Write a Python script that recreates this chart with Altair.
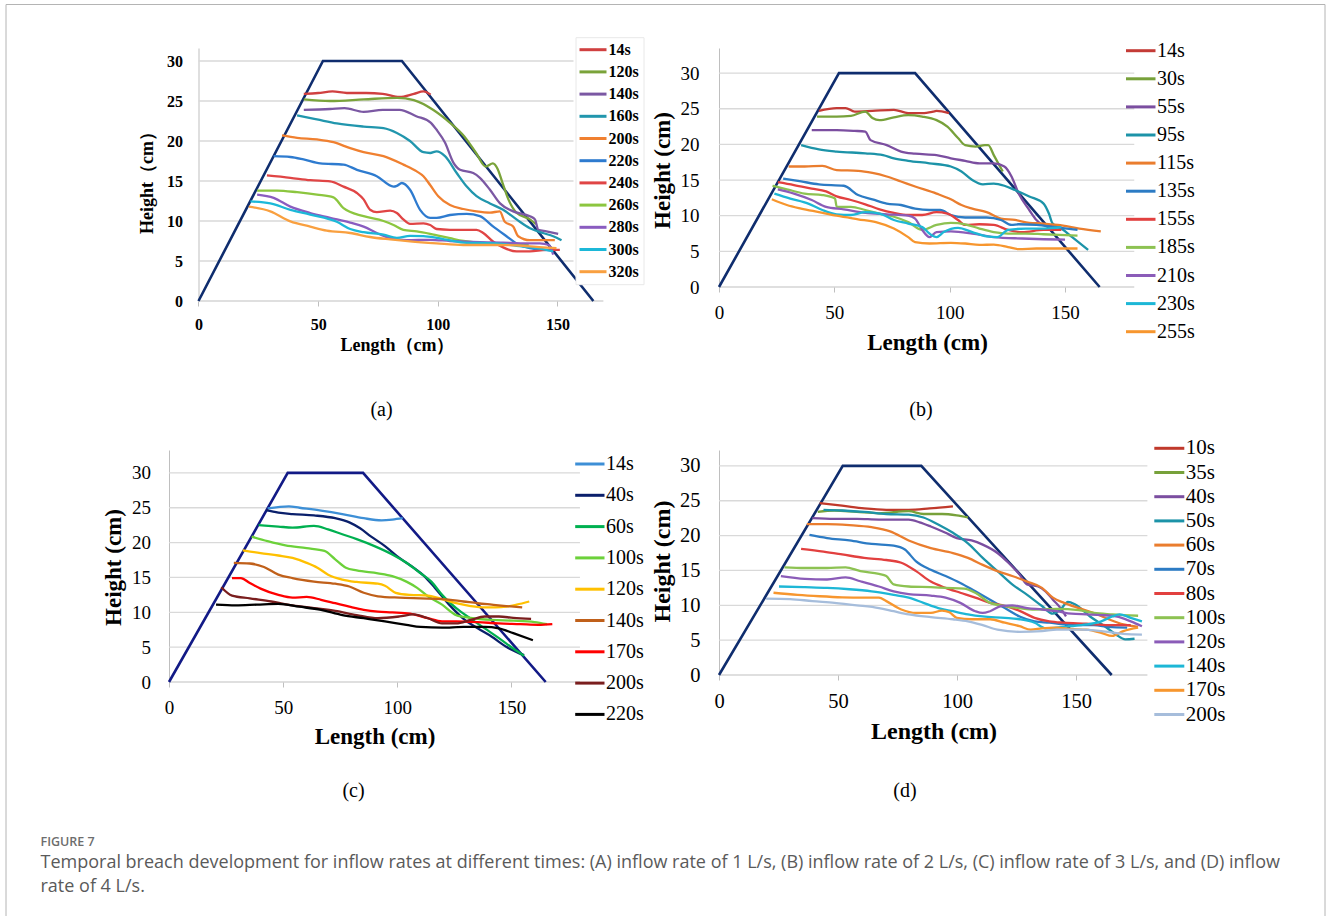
import altair as alt
import pandas as pd

SERIF = "Liberation Serif"
SANS = "Open Sans"
GRID_COL = "#d9d9d9"
AXIS_COL = "#bfbfbf"

# dam outline and guide values
dam_x = [0, 52, 85, 165]
dam_y = [0, 30, 30, 0]
grid_levels = [5, 10, 15, 20, 25, 30]
x_ticks = [0, 50, 100, 150]
y_ticks = [0, 5, 10, 15, 20, 25, 30]

# ---------------- (a) inflow 1 L/s ----------------
a_names = ["14s", "120s", "140s", "160s", "200s", "220s", "240s", "260s", "280s", "300s", "320s"]
a_colors = ["#d04040", "#7aa33a", "#7b58a3", "#2196ad", "#f08030", "#2e7bcf",
            "#e04545", "#8cc63f", "#8a5cc0", "#1cb8d8", "#f9a040"]
a_14s = ([44, 50, 56, 62, 70, 77, 84, 90, 94, 97],
         [25.9, 26.0, 26.2, 26.0, 26.0, 25.9, 25.5, 25.9, 26.2, 25.8])
a_120s = ([44, 55, 69, 83, 90, 98, 105, 111, 116, 120, 123, 125, 127, 129.5, 133, 138.5, 141],
          [25.2, 25.0, 25.2, 25.4, 25.1, 23.9, 22.3, 20.6, 18.5, 16.8, 17.2, 16.5, 14.8, 12.7, 11.0, 10.2, 9.6])
a_140s = ([44, 55, 61, 69, 77, 84, 91, 97, 99.5, 103, 106.5, 109.3, 114.8, 117.6, 121.8, 126, 131.5, 138.5, 140.6, 142, 145.4, 150.3],
          [23.9, 24.0, 24.1, 23.65, 23.9, 23.9, 23.1, 22.3, 21.4, 19.8, 17.3, 16.4, 16.0, 15.4, 13.9, 12.2, 11.2, 10.6, 10.2, 8.9, 8.7, 8.4])
a_160s = ([41.2, 49.5, 57.8, 69, 77.3, 82.9, 88.4, 94, 96.8, 99.5, 103, 107.9, 112.1, 116.2, 121.8, 127.3, 132.9, 138.5, 143.9, 148.2, 151.7],
          [23.2, 22.7, 22.2, 21.8, 21.6, 21.0, 20.0, 18.6, 18.5, 18.7, 18.1, 16.0, 14.3, 13.1, 12.2, 11.4, 10.2, 9.1, 8.5, 8.1, 7.6])
a_200s = ([34.9, 41.2, 49.5, 56.4, 63.4, 69, 77.3, 85.6, 91.2, 94, 96.8, 100.2, 105.1, 110.7, 116.2, 121.8, 125.9, 128, 131.5, 133.6, 138.5, 143.9, 148.9],
          [20.7, 20.4, 20.2, 19.85, 19.1, 18.6, 18.1, 17.05, 16.2, 15.6, 14.5, 13.1, 12.0, 11.5, 11.2, 11.05, 11.2, 9.9, 9.3, 8.1, 7.6, 7.6, 7.6])
a_220s = ([31.4, 38.4, 43.9, 50.9, 60.6, 66.2, 74.5, 81.5, 82.9, 85, 88.4, 92.6, 96.8, 99.5, 105.1, 112.1, 117.6, 123.2, 128.7, 132.9, 138.5, 143.9, 148.2],
          [18.1, 18.0, 17.7, 17.2, 17.05, 16.4, 15.6, 14.3, 14.4, 14.75, 13.9, 11.4, 10.4, 10.4, 10.75, 10.9, 10.6, 9.3, 8.1, 7.2, 6.6, 6.4, 6.3])
a_240s = ([28.6, 38.4, 46.7, 55, 60.6, 66.2, 69, 71.7, 74.5, 80.1, 82.9, 85.6, 88.4, 94, 96.8, 99.5, 105.1, 116.2, 119, 123.2, 127.3, 132.9, 138.5, 145.4, 151],
          [15.7, 15.4, 15.1, 14.95, 14.3, 13.5, 12.7, 11.4, 11.1, 11.3, 11.0, 10.2, 9.65, 9.7, 9.5, 9.0, 8.9, 8.9, 8.5, 7.4, 6.7, 6.2, 6.2, 6.4, 6.4])
a_260s = ([24.5, 32.8, 41.2, 49.5, 56.4, 60.6, 69, 77.3, 81.5, 85.6, 91.2, 96.8, 105.1, 110.7, 116.2, 121.8, 130, 138],
          [13.8, 13.8, 13.6, 13.3, 12.95, 11.6, 10.6, 10.0, 9.5, 8.9, 8.7, 8.4, 7.85, 7.5, 7.3, 7.2, 7.1, 7.0])
a_280s = ([24.5, 31.4, 38.4, 46.7, 55, 63.4, 69, 74.5, 80.1, 87, 96.8, 105.1, 117.6, 127.3, 135.7, 142.6, 146.5, 148.2],
          [13.3, 12.9, 11.8, 11.0, 10.4, 9.8, 9.3, 8.5, 7.85, 7.6, 7.65, 7.5, 7.35, 7.3, 7.2, 7.2, 7.0, 5.8])
a_300s = ([21.7, 30, 38.4, 46.7, 57.8, 63.4, 69, 77.3, 82.9, 88.4, 94, 99.5, 110.7, 124.6, 132.9, 141.4, 148.2],
          [12.45, 12.2, 11.4, 10.8, 9.9, 9.0, 8.6, 8.3, 7.9, 8.15, 8.1, 7.9, 7.3, 7.2, 6.9, 6.6, 6.2])
a_320s = ([21, 30, 38.4, 46.7, 53.6, 63.4, 71.7, 80.1, 88.4, 99.5, 110.7, 124.6, 135.7, 143.9, 149.6],
          [11.8, 11.2, 9.95, 9.3, 8.8, 8.5, 8.0, 7.7, 7.45, 7.2, 7.0, 7.0, 6.9, 6.7, 6.6])
a_series = [a_14s, a_120s, a_140s, a_160s, a_200s, a_220s, a_240s, a_260s, a_280s, a_300s, a_320s]

# ---------------- (b) inflow 2 L/s ----------------
b_names = ["14s", "30s", "55s", "95s", "115s", "135s", "155s", "185s", "210s", "230s", "255s"]
b_colors = ["#c43b36", "#77a13a", "#7b4ea0", "#1c93a8", "#ea7d2e", "#2c7bc4",
            "#e2403f", "#8dc252", "#8b5cb8", "#1db7d6", "#f7962e"]
b_14s = ([43.3, 51, 54.9, 58.8, 66.5, 75.8, 82, 88.1, 92.8, 94.3, 99.7],
         [24.7, 25.1, 25.1, 24.6, 24.7, 24.85, 24.4, 24.4, 24.6, 24.7, 24.4])
b_30s = ([42.5, 51, 57.2, 63.4, 66.5, 69.6, 75.8, 82, 88.1, 94.3, 99, 103.6, 106.7, 111.3, 115.2, 116.7, 119.1, 123],
         [23.9, 23.9, 24.0, 24.6, 23.7, 23.4, 23.8, 24.1, 23.9, 23.4, 22.5, 20.9, 19.9, 19.7, 19.9, 19.9, 18.5, 16.2])
b_55s = ([40.2, 51, 58.8, 63.4, 65.7, 72.7, 78.9, 85, 94.3, 100.5, 106.7, 112.9, 119.1, 123.7, 126.8, 129.9, 134.5, 137.6, 140.7, 148.4],
         [22.0, 22.0, 21.9, 21.8, 20.6, 19.9, 19.0, 18.7, 18.5, 18.05, 17.7, 17.35, 17.35, 16.9, 15.5, 13.1, 10.8, 9.4, 8.7, 8.4])
b_95s = ([35.6, 43.3, 51, 63.4, 71.1, 75.8, 82, 91.2, 100.5, 105.1, 109.8, 114.4, 119.1, 123.7, 128.3, 134.5, 140.7, 143, 144.6, 148.4, 153.1, 160],
         [19.9, 19.3, 19.0, 18.75, 18.5, 18.05, 17.7, 17.35, 16.9, 16.2, 15.0, 14.4, 14.5, 14.2, 13.6, 12.7, 11.7, 10.3, 8.9, 8.2, 7.0, 5.2])
b_115s = ([30.2, 37.1, 44.8, 51, 60.3, 66.5, 72.7, 78.9, 85, 94.3, 100.5, 105.1, 109.8, 116, 122.2, 128.3, 134.5, 140.7, 146.9, 156.2, 165.5],
          [16.9, 16.9, 17.0, 16.4, 16.3, 16.0, 15.5, 14.8, 14.1, 13.1, 12.3, 11.5, 11.0, 10.5, 9.6, 9.4, 9.0, 8.9, 8.7, 8.2, 7.8])
b_135s = ([27.8, 35.6, 43.3, 54.1, 60.3, 66.5, 72.7, 78.9, 85, 91.2, 95.9, 100.5, 106.7, 116, 122.2, 126.8, 129.9, 137.6, 145.4, 155.4],
          [15.2, 14.8, 14.4, 14.2, 12.9, 12.3, 11.7, 11.5, 11.0, 10.8, 10.8, 10.1, 9.75, 9.75, 9.4, 8.7, 8.8, 8.7, 8.4, 8.0])
b_155s = ([25.5, 32.5, 40.2, 46.4, 51, 57.2, 63.4, 69.6, 75.8, 82, 88.1, 94.3, 99, 103.6, 106.7, 112.9, 119.1, 125.3, 131.4, 140.7, 148.4],
          [14.7, 14.3, 13.8, 13.4, 12.7, 12.2, 11.6, 10.9, 10.4, 10.1, 10.1, 10.5, 10.3, 9.4, 8.7, 8.8, 8.7, 8.0, 7.7, 8.0, 8.0])
b_185s = ([23.2, 29.4, 37.1, 44.8, 50.3, 51, 57.2, 63.4, 69.6, 75.8, 82, 88.1, 94.3, 100.5, 106.7, 112.9, 119.1, 125.3, 133, 140.7, 155.4],
          [14.2, 13.7, 13.1, 12.9, 12.4, 11.25, 11.25, 10.8, 10.3, 9.85, 9.1, 8.0, 8.7, 9.0, 8.8, 8.2, 7.7, 7.5, 7.5, 7.4, 7.2])
b_210s = ([25.5, 32.5, 40.2, 46.4, 54.1, 63.4, 72.7, 82, 85, 88.1, 91.2, 94.3, 100.5, 109.8, 119.1, 131.4, 140.7, 150],
          [13.7, 13.1, 12.2, 11.25, 10.9, 10.4, 10.2, 10.0, 9.6, 8.0, 7.0, 7.7, 7.8, 7.5, 7.0, 6.8, 6.7, 6.65])
b_230s = ([24, 30.9, 38.7, 44.8, 51, 57.2, 63.4, 69.6, 75.8, 82, 88.1, 91.2, 94.3, 97.4, 103.6, 109.8, 116, 120.6, 125.3, 133, 140.7, 148.4],
          [13.1, 12.4, 11.7, 10.8, 10.2, 10.1, 10.5, 10.3, 9.4, 8.9, 8.4, 7.5, 7.0, 7.7, 8.3, 7.7, 7.1, 7.0, 8.0, 8.2, 8.2, 8.4])
b_255s = ([22.9, 29.4, 35.6, 43.3, 51, 60.3, 68, 75.8, 82, 85, 91.2, 100.5, 106.7, 112.9, 119.1, 125.3, 129.9, 137.6, 155.4],
          [12.3, 11.5, 11.0, 10.5, 10.0, 9.5, 9.1, 8.2, 7.0, 6.3, 6.1, 6.2, 6.1, 5.9, 5.95, 5.6, 5.3, 5.4, 5.4])
b_series = [b_14s, b_30s, b_55s, b_95s, b_115s, b_135s, b_155s, b_185s, b_210s, b_230s, b_255s]

# ---------------- (c) inflow 3 L/s ----------------
c_names = ["14s", "40s", "60s", "100s", "120s", "140s", "170s", "200s", "220s"]
c_colors = ["#3d8fd6", "#0a1f6b", "#00b050", "#6cd13a", "#ffc000", "#c0601a", "#ff0000", "#7a1e1e", "#000000"]
c_14s = ([43.2, 52.5, 57.2, 66.6, 75.9, 85.3, 93.1, 97.8, 102.4],
         [24.9, 25.2, 25.0, 24.6, 24.1, 23.5, 23.2, 23.3, 23.5])
c_40s = ([42.4, 47.9, 54.1, 63.5, 72.8, 79, 83.7, 88.4, 94.6, 100.9, 107.1, 111.8, 116.5, 122.7, 128.9, 135.2, 141.4, 147.7, 155.5],
         [24.65, 24.3, 24.1, 23.9, 23.5, 22.9, 22.05, 20.9, 19.5, 17.8, 16.4, 15.2, 13.5, 11.1, 9.1, 7.7, 6.5, 5.05, 3.85])
c_60s = ([39.3, 47.9, 54.1, 63.5, 69.7, 75.9, 82.2, 90, 97.8, 104, 110.2, 114.9, 119.6, 125.8, 132.1, 138.3, 144.5, 150.8, 155.5],
         [22.5, 22.3, 22.15, 22.4, 21.9, 21.2, 20.5, 19.5, 18.3, 17.1, 15.6, 14.4, 12.5, 10.6, 9.1, 7.7, 6.3, 4.8, 3.75])
c_100s = ([36.2, 43.2, 51, 60.3, 68.1, 72.8, 77.5, 82.2, 91.5, 97.8, 104, 108.7, 113.4, 119.6, 125.8, 132.1, 141.4, 150.8, 160.1, 165.6],
          [20.85, 20.2, 19.6, 19.2, 18.8, 17.6, 16.4, 16.0, 15.6, 15.2, 14.4, 13.5, 12.3, 11.1, 9.6, 9.2, 8.9, 8.8, 8.6, 8.3])
c_120s = ([32.3, 40.1, 47.9, 54.1, 60.3, 65, 69.7, 75.9, 82.2, 91.5, 94.6, 99.3, 105.6, 113.4, 119.6, 125.8, 132.1, 138.3, 143, 147.7, 152.3, 157.8],
          [18.9, 18.5, 18.15, 17.8, 17.1, 16.4, 15.4, 14.7, 14.35, 14.1, 13.8, 12.8, 12.5, 12.4, 11.9, 11.3, 10.9, 10.7, 10.7, 10.8, 11.1, 11.55])
c_140s = ([28.4, 35.4, 41.6, 47.9, 54.1, 63.5, 72.8, 79, 85.3, 91.5, 100.9, 110.2, 119.6, 129, 135.2, 141.4, 147.7, 154.7],
          [17.1, 17.0, 16.5, 15.4, 14.9, 14.4, 14.1, 13.7, 12.8, 12.3, 12.1, 12.0, 11.9, 11.55, 11.3, 11.1, 10.9, 10.7])
c_170s = ([27.6, 31.5, 35.4, 40.1, 47.9, 54.1, 60.3, 66.6, 72.8, 79, 85.3, 91.5, 97.8, 105.6, 113.4, 119.6, 125.8, 135.2, 144.5, 153.9, 161.7, 167.9],
          [14.9, 14.9, 14.2, 13.4, 12.5, 12.1, 12.2, 11.8, 11.3, 10.8, 10.35, 10.1, 10.0, 9.8, 9.15, 8.7, 8.7, 8.6, 8.4, 8.3, 8.2, 8.3])
c_200s = ([22.9, 27.6, 35.4, 44.8, 54.1, 63.5, 72.8, 82.2, 91.5, 100.9, 107.1, 113.4, 119.6, 125.8, 132.1, 138.3, 144.5, 150.8, 158.6],
          [13.6, 12.4, 12.0, 11.55, 11.0, 10.6, 10.2, 9.6, 9.15, 9.4, 9.7, 9.15, 8.4, 8.4, 8.9, 9.4, 9.4, 9.2, 9.05])
c_220s = ([20.6, 29.2, 38.5, 47.9, 57.2, 66.6, 75.9, 85.3, 94.6, 104, 110.2, 119.6, 129, 138.3, 144.5, 150.8, 159.4],
          [11.1, 11.0, 11.1, 11.2, 10.8, 10.35, 9.6, 9.15, 8.7, 8.2, 7.9, 7.8, 7.9, 7.9, 7.7, 7.0, 6.0])
c_series = [c_14s, c_40s, c_60s, c_100s, c_120s, c_140s, c_170s, c_200s, c_220s]

# ---------------- (d) inflow 4 L/s ----------------
d_names = ["10s", "35s", "40s", "50s", "60s", "70s", "80s", "100s", "120s", "140s", "170s", "200s"]
d_colors = ["#c0392b", "#77a13a", "#7b4ea0", "#1c93a8", "#ea7d2e", "#2c7bc4",
            "#e2403f", "#8dc252", "#8b5cb8", "#1db7d6", "#f7962e", "#a6bddb"]
d_10s = ([42.3, 51.7, 61, 70.3, 79.7, 88.5, 98.3],
         [24.65, 24.3, 23.9, 23.7, 23.7, 23.9, 24.2])
d_35s = ([41.5, 48.5, 57.9, 67.2, 79.7, 85.9, 93.7, 99.9, 104.6],
         [23.4, 23.6, 23.4, 23.2, 23.5, 23.1, 23.1, 22.9, 22.6])
d_40s = ([39.2, 48.5, 57.9, 67.2, 79.7, 84.3, 89, 95.2, 99.9, 106.1, 110.8, 117, 121.6, 126.3, 129.4, 134.1, 137.2, 140.3, 143.5, 145.8],
         [22.5, 22.4, 22.4, 22.3, 22.3, 21.9, 21.3, 20.4, 19.65, 19.3, 18.7, 17.5, 16.1, 14.4, 13.0, 12.7, 12.0, 10.8, 9.6, 8.4])
d_50s = ([43.9, 51.7, 61, 70.3, 79.7, 85.9, 92.1, 98.3, 104.6, 110.8, 117, 123.2, 129.5, 135.7, 140.3, 143.5, 146.6, 149.7, 155.9, 162.1, 166.8, 170.7, 174.6],
         [23.7, 23.6, 23.4, 23.1, 23.0, 22.6, 21.6, 20.4, 18.9, 16.8, 14.9, 13.0, 11.5, 9.9, 8.8, 9.4, 10.5, 10.1, 8.4, 7.0, 5.8, 5.1, 5.2])
d_60s = ([36.9, 45.4, 54.8, 64.1, 71.9, 79.7, 89, 98.3, 104.6, 110.8, 117, 123.2, 129.5, 135.7, 140.3, 145, 151.2, 157.5, 163.7, 169.9, 176.1],
         [21.65, 21.65, 21.5, 21.2, 20.6, 19.3, 18.2, 17.5, 16.8, 15.8, 14.9, 14.2, 13.4, 12.5, 11.1, 10.35, 9.6, 8.9, 8.0, 7.25, 6.9])
d_70s = ([38, 45.4, 54.8, 64.1, 73.4, 78.1, 82.8, 89, 95.2, 101.4, 107.7, 113.9, 120.1, 126.3, 132.6, 138.8, 145, 151.2, 157.5, 163.7, 171.5],
         [20.1, 19.65, 19.3, 18.8, 18.55, 18.0, 16.3, 15.1, 14.2, 13.2, 12.0, 10.8, 9.6, 8.4, 7.7, 7.5, 7.25, 7.15, 7.15, 6.9, 6.8])
d_80s = ([34.5, 43.9, 51.7, 61, 70.3, 76.6, 82.8, 89, 95.2, 101.4, 107.7, 113.9, 120.1, 126.3, 132.6, 138.8, 145, 154.3, 163.7, 173],
         [18.1, 17.7, 17.3, 16.8, 16.5, 16.1, 14.9, 13.4, 12.5, 11.8, 11.1, 10.35, 9.9, 9.2, 8.2, 7.7, 7.5, 7.35, 7.15, 7.15])
d_100s = ([27.5, 36.1, 45.4, 53.2, 59.4, 67.2, 70.3, 73.4, 79.7, 89, 95.2, 103, 107.7, 113.9, 120.1, 126.3, 132.6, 141.9, 151.2, 157.5, 165.2, 176.1],
          [15.45, 15.35, 15.35, 15.45, 14.9, 14.5, 14.2, 13.0, 12.7, 12.6, 12.5, 12.4, 11.8, 10.35, 9.9, 9.6, 9.4, 9.5, 9.3, 8.9, 8.7, 8.5])
d_120s = ([26, 36.1, 45.4, 53.2, 59.4, 67.2, 73.4, 79.7, 89, 95.2, 101.4, 107.7, 110.8, 113.9, 118.6, 123.2, 129.5, 135.7, 141.9, 148.1, 154.3, 160.6, 166.8, 173, 177.7],
          [14.2, 13.8, 13.7, 14.0, 13.45, 12.7, 12.0, 11.6, 11.4, 11.1, 10.35, 9.15, 8.9, 9.15, 9.9, 10.0, 9.6, 9.4, 9.15, 8.8, 8.7, 8.6, 8.4, 7.7, 7.0])
d_140s = ([25.2, 36.1, 45.4, 54.8, 64.1, 73.4, 79.7, 85.9, 92.1, 98.3, 104.6, 110.8, 120.1, 126.3, 132.6, 137.2, 141.9, 148.1, 154.3, 160.6, 165.2, 168.3, 173, 177.7],
          [12.7, 12.6, 12.5, 12.3, 12.0, 11.5, 11.1, 10.35, 9.6, 9.15, 8.7, 8.4, 8.2, 8.0, 7.5, 6.7, 6.8, 7.0, 7.25, 7.7, 8.4, 8.7, 8.2, 7.7])
d_170s = ([22.9, 33, 42.3, 51.7, 61, 67.2, 70.3, 76.6, 82.8, 89, 93.7, 96.8, 99.9, 106.1, 113.9, 120.1, 126.3, 131, 135.7, 141.9, 148.1, 154.3, 160.6, 165.2, 169.9, 176.1],
          [11.8, 11.5, 11.3, 11.15, 11.1, 11.1, 10.6, 9.4, 8.9, 8.9, 9.25, 9.0, 8.2, 8.0, 8.0, 7.5, 7.0, 6.5, 6.7, 6.8, 6.6, 6.5, 6.05, 5.6, 6.3, 6.8])
d_200s = ([19.8, 29.9, 39.2, 48.5, 57.9, 67.2, 73.4, 79.7, 89, 98.3, 104.6, 110.8, 117, 126.3, 135.7, 141.9, 151.2, 160.6, 169.9, 177.7],
          [10.95, 10.9, 10.6, 10.35, 10.0, 9.6, 9.15, 8.7, 8.3, 8.0, 7.7, 7.15, 6.5, 6.2, 6.3, 6.5, 6.5, 6.3, 5.9, 5.8])
d_series = [d_10s, d_35s, d_40s, d_50s, d_60s, d_70s, d_80s, d_100s, d_120s, d_140s, d_170s, d_200s]

caption_head = "FIGURE 7"
caption_line1 = ("Temporal breach development for inflow rates at different times: (A) inflow rate of 1 L/s, "
                 "(B) inflow rate of 2 L/s, (C) inflow rate of 3 L/s, and (D) inflow")
caption_line2 = "rate of 4 L/s."

one = pd.DataFrame({"k": [0]})


def make_panel(names, series, colors, dam_color, cfg, extras=()):
    rows = []
    for name, (xs, ys) in zip(names, series):
        for i, (x, y) in enumerate(zip(xs, ys)):
            rows.append({"series": name, "L": x, "H": y, "i": i})
    df = pd.DataFrame(rows)
    sx = alt.Scale(domain=[cfg["xmin"], cfg["xmax"]], nice=False, zero=False)
    sy = alt.Scale(domain=[0, cfg["ymax"]], nice=False, zero=False)
    fw = cfg["weight"]
    xaxis = alt.Axis(values=x_ticks, domain=False, grid=False, ticks=True, tickColor=AXIS_COL,
                     tickSize=5, tickWidth=1, labelFont=SERIF, labelFontSize=cfg["tick_fs"],
                     labelFontWeight=fw, labelColor="#000", labelPadding=cfg["xlp"],
                     labelFlush=False, labelOverlap=False,
                     title=cfg["xtitle"], titleFont=SERIF, titleFontSize=cfg["title_fs"],
                     titleFontWeight="bold", titleColor="#000", titleX=cfg["xtx"], titleY=cfg["xty"],
                     titleAlign="center", titleBaseline="middle")
    yaxis = alt.Axis(values=y_ticks, domain=True, domainColor=AXIS_COL, domainWidth=1, grid=False,
                     ticks=False, labelFont=SERIF, labelFontSize=cfg["tick_fs"], labelFontWeight=fw,
                     labelColor="#000", labelPadding=cfg["ylp"], labelFlush=False, labelOverlap=False,
                     offset=cfg["yoff"],
                     title=cfg["ytitle"], titleFont=SERIF, titleFontSize=cfg["title_fs"],
                     titleFontWeight="bold", titleColor="#000", titleX=cfg["ytx"], titleY=cfg["yty"],
                     titleAngle=270, titleAlign="center", titleBaseline="middle")

    def X(field):
        return alt.X(field, scale=sx, axis=xaxis)

    def Y(field):
        return alt.Y(field, scale=sy, axis=yaxis)

    n = len(grid_levels)
    grid = alt.Chart(pd.DataFrame({"g": grid_levels, "a": [0] * n, "b": [cfg["grid_end"]] * n})).mark_rule(
        color=GRID_COL, strokeWidth=1.3).encode(x=X("a:Q"), x2="b:Q", y=Y("g:Q"))
    base = alt.Chart(pd.DataFrame({"g": [0], "a": [0], "b": [cfg["base_end"]]})).mark_rule(
        color=AXIS_COL, strokeWidth=1.2).encode(x=X("a:Q"), x2="b:Q", y=Y("g:Q"))
    dam = alt.Chart(pd.DataFrame({"L": dam_x, "H": dam_y, "i": list(range(len(dam_x)))})).mark_line(
        color=dam_color, strokeWidth=2.6).encode(x=X("L:Q"), y=Y("H:Q"), order="i:Q")
    lg = cfg["legend"]
    legend = alt.Legend(orient="none", legendX=lg["x"], legendY=lg["y"], title=None,
                        direction="vertical", symbolType="M-2,0L2,0", symbolSize=lg["size"],
                        symbolStrokeWidth=3, symbolOffset=lg["so"], labelOffset=lg["lo"],
                        rowPadding=lg["rp"], padding=lg["pad"], labelFont=SERIF,
                        labelFontSize=lg["fs"], labelFontWeight=fw, labelColor="#000",
                        fillColor=lg["fill"], strokeColor=lg["stroke"])
    lines = alt.Chart(df).mark_line(interpolate="monotone", strokeWidth=2.3).encode(
        x=X("L:Q"), y=Y("H:Q"),
        color=alt.Color("series:N", scale=alt.Scale(domain=names, range=colors), sort=names, legend=legend),
        order="i:Q")
    tag = alt.Chart(pd.DataFrame({"t": [cfg["tag"]]})).mark_text(
        font=SERIF, fontSize=20, align="center", baseline="middle", color="#000").encode(
        text="t:N", x=alt.value(cfg["tag_x"]), y=alt.value(cfg["tag_y"]))
    layers = [grid, base, dam, lines, tag] + list(extras)
    return alt.layer(*layers).properties(width=cfg["W"], height=cfg["H"])


# (a) plot area starts 29.5 px left of its y axis so that it shares a column with (c)
cfg_a = dict(W=434.5, H=253, xmin=-29.5 / 2.393, xmax=-29.5 / 2.393 + 434.5 / 2.393, ymax=253 / 8.0,
             grid_end=156.7, base_end=169.2, yoff=-29.5,
             weight="bold", tick_fs=16, title_fs=18, xlp=10, ylp=16,
             xtitle="Length（cm）", ytitle="Height（cm）", xtx=228, xty=44, ytx=-51, yty=130,
             tag="(a)", tag_x=212.5, tag_y=362,
             legend=dict(x=406.5, y=-10.8, size=182.25, so=5, lo=7, rp=5.2, pad=4, fs=16,
                         fill="#ffffff", stroke="#e8e8e8"))
cfg_b = dict(W=180 * 2.307, H=239, xmin=0, xmax=180, ymax=239 / 7.13, grid_end=180, base_end=180, yoff=0,
             weight="normal", tick_fs=19, title_fs=23, xlp=11, ylp=20,
             xtitle="Length (cm)", ytitle="Height (cm)", xtx=208, xty=55, ytx=-57, yty=122,
             tag="(b)", tag_x=202, tag_y=362,
             legend=dict(x=407, y=-7.3, size=217.6, so=4.75, lo=6.2, rp=8.1, pad=0, fs=20,
                         fill="transparent", stroke="transparent"))
cfg_c = dict(W=434.5, H=232, xmin=0, xmax=434.5 / 2.283, ymax=232 / 6.97, grid_end=180, base_end=180, yoff=0,
             weight="normal", tick_fs=19, title_fs=23, xlp=11, ylp=18.5,
             xtitle="Length (cm)", ytitle="Height (cm)", xtx=205.5, xty=54, ytx=-56, yty=117,
             tag="(c)", tag_x=184.5, tag_y=341,
             legend=dict(x=406.2, y=4, size=214.6, so=4.65, lo=6.1, rp=11.3, pad=0, fs=20,
                         fill="transparent", stroke="transparent"))
cfg_d = dict(W=180 * 2.38, H=225, xmin=0, xmax=180, ymax=225 / 6.97, grid_end=180, base_end=180, yoff=0,
             weight="normal", tick_fs=20.5, title_fs=24, xlp=11.8, ylp=19,
             xtitle="Length (cm)", ytitle="Height (cm)", xtx=214.6, xty=56, ytx=-57, yty=111,
             tag="(d)", tag_x=186, tag_y=341,
             legend=dict(x=435.3, y=-12.2, size=225, so=4.5, lo=5.9, rp=2.2, pad=0, fs=21,
                         fill="transparent", stroke="transparent"))

# frame and caption (placed relative to panel (c))
frame_top = alt.Chart(one).mark_rule(color="#b4b4b4", strokeWidth=1).encode(
    x=alt.value(-163), x2=alt.value(1156), y=alt.value(-445.5))
frame_left = alt.Chart(one).mark_rule(color="#b4b4b4", strokeWidth=1).encode(
    x=alt.value(-163), y=alt.value(-445.5), y2=alt.value(466))
frame_right = alt.Chart(one).mark_rule(color="#b4b4b4", strokeWidth=1).encode(
    x=alt.value(1156), y=alt.value(-445.5), y2=alt.value(466))
cap_head = alt.Chart(pd.DataFrame({"t": [caption_head]})).mark_text(
    font=SANS, fontSize=12.5, fontWeight=600, color="#6d6d6d", align="left", baseline="middle").encode(
    text="t:N", x=alt.value(-128.5), y=alt.value(391.5))
cap_l1 = alt.Chart(pd.DataFrame({"t": [caption_line1]})).mark_text(
    font=SANS, fontSize=18, color="#5a5a5a", align="left", baseline="middle").encode(
    text="t:N", x=alt.value(-128.5), y=alt.value(413))
cap_l2 = alt.Chart(pd.DataFrame({"t": [caption_line2]})).mark_text(
    font=SANS, fontSize=18, color="#5a5a5a", align="left", baseline="middle").encode(
    text="t:N", x=alt.value(-128.5), y=alt.value(437))

panel_a = make_panel(a_names, a_series, a_colors, "#0f2d6e", cfg_a)
panel_b = make_panel(b_names, b_series, b_colors, "#0f2d6e", cfg_b)
panel_c = make_panel(c_names, c_series, c_colors, "#121a86", cfg_c,
                     extras=[frame_top, frame_left, frame_right, cap_head, cap_l1, cap_l2])
panel_d = make_panel(d_names, d_series, d_colors, "#0f2d6e", cfg_d)

chart = alt.concat(panel_a, panel_b, panel_c, panel_d, columns=2,
                   spacing={"row": 149, "column": 115}, bounds="flush", align="each").resolve_scale(
    color="independent").configure_view(strokeWidth=0).properties(
    padding={"left": 5, "top": 4, "right": 0, "bottom": 0}, background="white")

chart.save("out.html", embed_options={"renderer": "svg", "actions": False})
